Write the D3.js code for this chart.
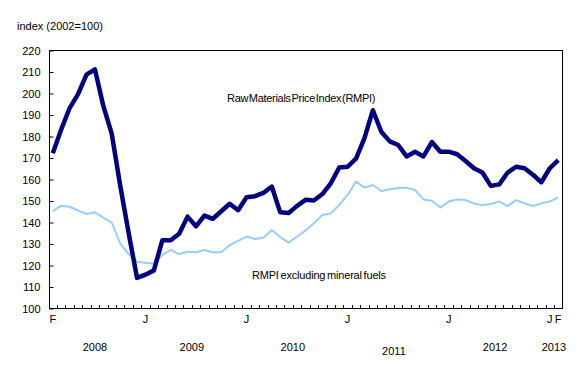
<!DOCTYPE html>
<html>
<head>
<meta charset="utf-8">
<script src="https://cdn.jsdelivr.net/npm/d3@7"></script>
<style>
  body { margin: 0; background: #fff; }
  svg { display: block; font-family: "Liberation Sans", Arial, sans-serif; font-size: 11px; }
</style>
</head>
<body>
<svg id="chart"></svg>
<script>
// monthly, Feb 2008 .. Feb 2013
const months = d3.timeMonth.range(new Date(2008, 1, 1), new Date(2013, 2, 1));

const rmpi = [
  172, 183, 193, 199.5, 208.5, 211, 194, 181, 157, 135, 114,
  115.5, 117.5, 131.5, 131.5, 134.5, 142.5, 138, 143, 141.5, 145, 148.5, 145.5,
  151.5, 152, 153.5, 156.5, 144.5, 144.2, 147.5, 150.3, 150, 153, 158, 165.3,
  165.7, 169.5, 179, 192, 182, 177.5, 175.8, 170.5, 172.7, 170.5, 177.2, 172.7,
  172.7, 171.5, 168.4, 165, 163, 156.8, 157.5, 163, 165.7, 165, 162, 158.5,
  165, 168.8
];

const rmpiExFuels = [
  145.1, 147.6, 147.1, 145.3, 143.7, 144.5, 142, 139.7, 130.1, 125.1, 121.5,
  121.1, 120.6, 124.7, 127, 125.1, 126.2, 125.9, 127, 125.9, 125.9, 129.3, 131.2,
  133.2, 132.1, 132.7, 136.3, 132.9, 130.4, 133.2, 136, 139.4, 143.3, 144, 147.9,
  152.6, 158.8, 156, 157.2, 154.4, 155.2, 155.8, 156, 154.9, 150.5, 149.9, 146.7,
  149.5, 150.5, 150.2, 148.6, 147.9, 148.4, 149.5, 147.4, 150.2, 148.7, 147.4, 148.7,
  149.5, 151.5
];

const yTicks = [100, 110, 120, 130, 140, 150, 160, 170, 180, 190, 200, 210, 220];
const monthTickIdx = [0, 11, 23, 35, 47, 59, 60];
const monthTickText = ["F", "J", "J", "J", "J", "J", "F"];
const years = [2008, 2009, 2010, 2011, 2012, 2013];

const width = 588, height = 380;
const plotLeft = 49, plotRight = 562, plotTop = 50, plotBottom = 308;

const svg = d3.select("#chart").attr("width", width).attr("height", height);

const x = d3.scalePoint()
    .domain(d3.range(months.length))
    .range([plotLeft, plotRight])
    .padding(0.45);

const y = d3.scaleLinear()
    .domain([100, 220])
    .range([plotBottom, plotTop]);

// frame
svg.append("rect")
    .attr("x", plotLeft + 0.5).attr("y", plotTop + 0.5)
    .attr("width", plotRight - plotLeft).attr("height", plotBottom - plotTop)
    .attr("fill", "none").attr("stroke", "#000").attr("stroke-width", 1);

// y axis, ticks pointing inward
const yAxis = svg.append("g")
    .attr("transform", "translate(" + (plotLeft + 0.5) + ",0.5)")
    .call(d3.axisLeft(y).tickValues(yTicks).tickSize(-4).tickSizeOuter(0).tickPadding(9));
yAxis.select(".domain").remove();
yAxis.selectAll("text").attr("font-size", 11).attr("font-family", null).attr("fill", "#000");

// monthly tick marks between categories
const step = x.step();
svg.append("g")
    .selectAll("line")
    .data(d3.range(months.length - 1))
    .enter()
    .append("line")
    .attr("x1", d => Math.round(x(d) + step / 2) + 0.5)
    .attr("x2", d => Math.round(x(d) + step / 2) + 0.5)
    .attr("y1", plotBottom)
    .attr("y2", plotBottom - 3)
    .attr("stroke", "#000");

// month letters
svg.append("g")
    .selectAll("text")
    .data(monthTickIdx)
    .enter()
    .append("text")
    .attr("x", d => x(d))
    .attr("y", 323)
    .attr("text-anchor", "middle")
    .text((d, i) => monthTickText[i]);

// year labels centred under their months
svg.append("g")
    .selectAll("text")
    .data(years)
    .enter()
    .append("text")
    .attr("x", yr => d3.mean(d3.range(months.length).filter(i => months[i].getFullYear() === yr), i => x(i)))
    .attr("y", yr => yr === 2011 ? 355 : 351)
    .attr("text-anchor", "middle")
    .text(yr => yr);

// unit label
svg.append("text")
    .attr("x", 17).attr("y", 30)
    .text("index (2002=100)");

const line = d3.line()
    .x((d, i) => x(i))
    .y(d => y(d));

svg.append("path")
    .datum(rmpiExFuels)
    .attr("fill", "none")
    .attr("stroke", "#99ccff")
    .attr("stroke-width", 2)
    .attr("stroke-linejoin", "round")
    .attr("d", line);

svg.append("path")
    .datum(rmpi)
    .attr("fill", "none")
    .attr("stroke", "#000080")
    .attr("stroke-width", 4.5)
    .attr("stroke-linejoin", "round")
    .attr("d", line);

// series labels
svg.append("text")
    .attr("x", 227).attr("y", 102)
    .attr("letter-spacing", -0.3)
    .attr("word-spacing", -2)
    .text("Raw Materials Price Index (RMPI)");

svg.append("text")
    .attr("x", 252).attr("y", 279)
    .attr("letter-spacing", -0.2)
    .attr("word-spacing", -1)
    .text("RMPI excluding mineral fuels");
</script>
</body>
</html>
